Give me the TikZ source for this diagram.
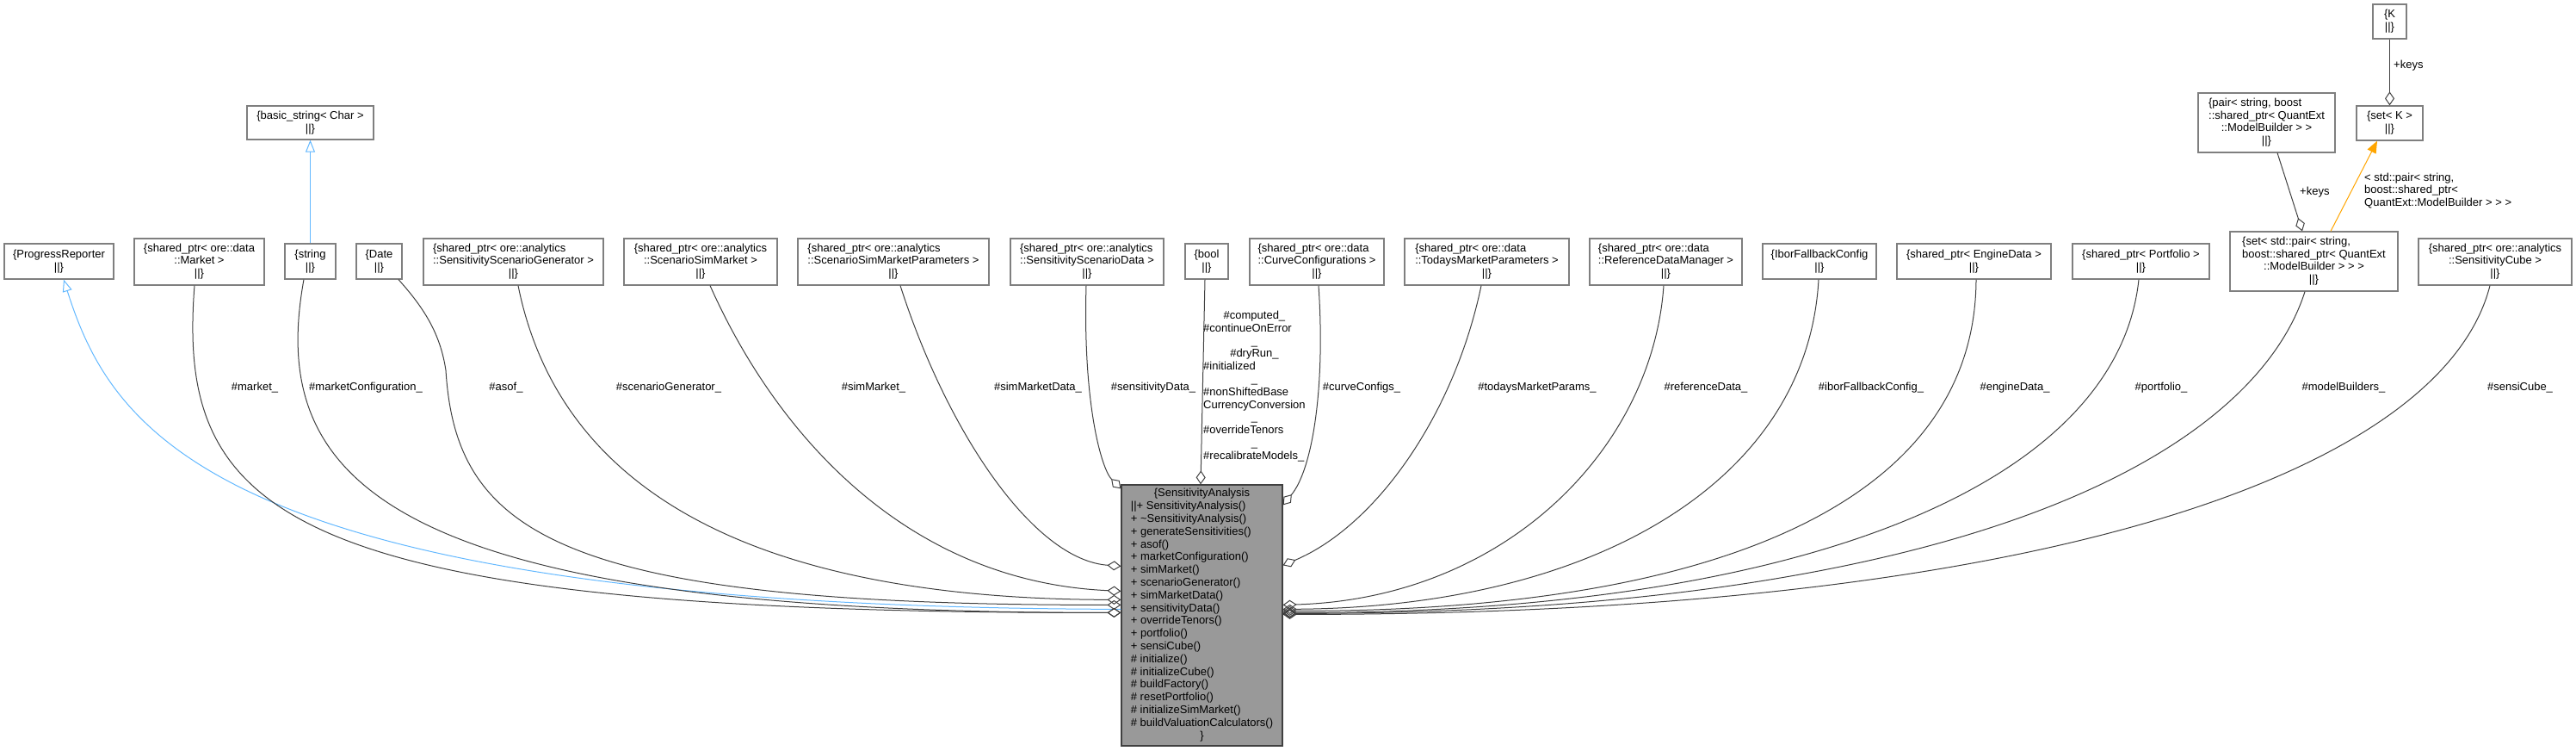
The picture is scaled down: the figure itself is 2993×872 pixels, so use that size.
\documentclass[tikz,border=0pt]{standalone}
\usepackage{fontspec}
\setmainfont{Liberation Sans}
\usetikzlibrary{arrows.meta}
\definecolor{boxline}{HTML}{7F7F7F}
\definecolor{mainline}{HTML}{404040}
\definecolor{mainfill}{HTML}{999999}
\definecolor{edgegray}{HTML}{404040}
\definecolor{inhblue}{HTML}{63B8FF}
\definecolor{tmplorange}{HTML}{FFA500}
\newcommand{\dotfont}{\fontsize{13}{14.8}\selectfont}
\newcommand{\ctr}[1]{\multicolumn{1}{@{}c@{}}{#1}}
\newcommand{\recbox}[2]{\begin{tabular}{@{}c@{}}\multicolumn{1}{@{}l@{}}{#1}\\#2\\||\}\end{tabular}}
\tikzset{
  cls/.style={draw=boxline, line width=1.2pt, fill=white, inner sep=0pt, align=center, font=\dotfont},
  lbl/.style={inner sep=0pt, font=\dotfont},
  agg/.style={draw=edgegray, line width=1pt, -{Diamond[open, length=16pt, width=11pt]}},
  inh/.style={draw=inhblue, line width=1pt, -{Triangle[open, length=14pt, width=11pt]}},
  tmpl/.style={draw=tmplorange, line width=1pt, -{Triangle[length=14pt, width=11pt, fill=tmplorange]}},
}
\begin{document}
\begin{tikzpicture}[x=1pt, y=-1pt]
  \useasboundingbox (0,0) rectangle (2993,872);
  % main class
  \node[cls, draw=mainline, fill=mainfill, minimum width=187pt, minimum height=303pt] (sa) at (1396.5,714.5)
    {\begin{tabular}{@{}l@{}}\ctr{\{SensitivityAnalysis}\\||+ SensitivityAnalysis()\\+ \textasciitilde SensitivityAnalysis()\\
     + generateSensitivities()\\+ asof()\\+ marketConfiguration()\\+ simMarket()\\+ scenarioGenerator()\\
     + simMarketData()\\+ sensitivityData()\\+ overrideTenors()\\+ portfolio()\\+ sensiCube()\\
     \# initialize()\\\# initializeCube()\\\# buildFactory()\\\# resetPortfolio()\\\# initializeSimMarket()\\
     \# buildValuationCalculators()\\\ctr{\}}\end{tabular}};
  % members
  \node[cls, minimum width=127pt, minimum height=41pt] (progress) at (68.5,303.5) {\{ProgressReporter\\||\}};
  \node[cls, minimum width=151pt, minimum height=54pt] (market) at (231.5,304) {\recbox{\{shared\_ptr< ore::data}{::Market >}};
  \node[cls, minimum width=59pt, minimum height=41pt] (string) at (360.5,303.5) {\{string\\||\}};
  \node[cls, minimum width=147pt, minimum height=39pt] (base) at (360.5,142.5) {\{basic\_string< Char >\\||\}};
  \node[cls, minimum width=53pt, minimum height=41pt] (date) at (440.5,303.5) {\{Date\\||\}};
  \node[cls, minimum width=209pt, minimum height=54pt] (ssgen) at (596.5,304) {\recbox{\{shared\_ptr< ore::analytics}{::SensitivityScenarioGenerator >}};
  \node[cls, minimum width=178pt, minimum height=54pt] (ssm) at (814,304) {\recbox{\{shared\_ptr< ore::analytics}{::ScenarioSimMarket >}};
  \node[cls, minimum width=222pt, minimum height=54pt] (ssmp) at (1038,304) {\recbox{\{shared\_ptr< ore::analytics}{::ScenarioSimMarketParameters >}};
  \node[cls, minimum width=178pt, minimum height=54pt] (ssdata) at (1263,304) {\recbox{\{shared\_ptr< ore::analytics}{::SensitivityScenarioData >}};
  \node[cls, minimum width=50pt, minimum height=41pt] (bool) at (1402,303.5) {\{bool\\||\}};
  \node[cls, minimum width=156pt, minimum height=54pt] (curvecfg) at (1530,304) {\recbox{\{shared\_ptr< ore::data}{::CurveConfigurations >}};
  \node[cls, minimum width=191pt, minimum height=54pt] (tmp) at (1727.5,304) {\recbox{\{shared\_ptr< ore::data}{::TodaysMarketParameters >}};
  \node[cls, minimum width=177pt, minimum height=54pt] (refdata) at (1935.5,304) {\recbox{\{shared\_ptr< ore::data}{::ReferenceDataManager >}};
  \node[cls, minimum width=132pt, minimum height=41pt] (ibor) at (2114,303.5) {\{IborFallbackConfig\\||\}};
  \node[cls, minimum width=179pt, minimum height=41pt] (engine) at (2293.5,303.5) {\{shared\_ptr< EngineData >\\||\}};
  \node[cls, minimum width=159pt, minimum height=41pt] (portfolio) at (2487.5,303.5) {\{shared\_ptr< Portfolio >\\||\}};
  \node[cls, minimum width=195pt, minimum height=69pt] (modelset) at (2688.5,303.5) {\recbox{\{set< std::pair< string,}{ boost::shared\_ptr< QuantExt\\::ModelBuilder > > >}};
  \node[cls, minimum width=178pt, minimum height=54pt] (cube) at (2899,304) {\recbox{\{shared\_ptr< ore::analytics}{::SensitivityCube >}};
  \node[cls, minimum width=159pt, minimum height=69pt] (pair) at (2633.5,142.5) {\recbox{\{pair< string, boost}{::shared\_ptr< QuantExt\\::ModelBuilder > >}};
  \node[cls, minimum width=77pt, minimum height=40pt] (setk) at (2776.5,143) {\{set< K >\\||\}};
  \node[cls, minimum width=39pt, minimum height=40pt] (kbox) at (2776.5,25) {\{K\\||\}};
  % inheritance
  \draw[inh] (string.north) -- (base.south);
  \draw[inh] ([yshift=-145pt]sa.north west) .. controls (250,705) and (130,500) .. ([xshift=5.5pt]progress.south);
  % members on the left
  \draw[agg] ([xshift=-5.5pt]market.south) .. controls (205,600) and (330,712) .. ([yshift=-149pt]sa.north west);
  \draw[agg] ([xshift=-7.5pt]string.south) .. controls (310,560) and (450,712) .. ([yshift=-149pt]sa.north west);
  \draw[agg] ([xshift=22.5pt]date.south) .. controls (495,360) and (512,390) .. (518,430)
    .. controls (530,620) and (650,703) .. ([yshift=-140pt]sa.north west);
  \draw[agg] ([xshift=5.5pt]ssgen.south) .. controls (640,520) and (800,695) .. ([yshift=-134pt]sa.north west);
  \draw[agg] ([xshift=11pt]ssm.south) .. controls (900,500) and (1050,675) .. ([yshift=-124pt]sa.north west);
  \draw[agg] ([xshift=8pt]ssmp.south) .. controls (1100,500) and (1200,650) .. ([yshift=-95pt]sa.north west);
  \draw[agg] ([xshift=-1pt]ssdata.south) .. controls (1258,470) and (1280,545) .. ([yshift=-5pt]sa.north west);
  \draw[agg] ([xshift=-2pt]bool.south) -- ([xshift=-1.5pt]sa.north);
  % members on the right
  \draw[agg] ([xshift=2pt]curvecfg.south) .. controls (1540,450) and (1525,545) .. ([yshift=-24pt]sa.north east);
  \draw[agg] ([xshift=-6.5pt]tmp.south) .. controls (1690,480) and (1600,610) .. ([yshift=-94pt]sa.north east);
  \draw[agg] ([xshift=-2.5pt]refdata.south) .. controls (1920,520) and (1750,695) .. ([yshift=-140pt]sa.north east);
  \draw[agg] ([xshift=-1pt]ibor.south) .. controls (2100,560) and (1850,705) .. ([yshift=-145pt]sa.north east);
  \draw[agg] ([xshift=2.5pt]engine.south) .. controls (2295,580) and (2000,710) .. ([yshift=-147pt]sa.north east);
  \draw[agg] ([xshift=-2.5pt]portfolio.south) .. controls (2460,560) and (2100,712) .. ([yshift=-149pt]sa.north east);
  \draw[agg] ([xshift=-10.5pt]modelset.south) .. controls (2620,520) and (2300,712) .. ([yshift=-150pt]sa.north east);
  \draw[agg] ([xshift=-6pt]cube.south) .. controls (2840,540) and (2400,714) .. ([yshift=-151pt]sa.north east);
  % keys and template
  \draw[agg] (kbox.south) -- (setk.north);
  \draw[agg] ([xshift=12.5pt]pair.south) -- ([xshift=-13.5pt]modelset.north);
  \draw[tmpl] ([xshift=19.5pt]modelset.north) -- ([xshift=-14.5pt]setk.south);
  % labels
  \foreach \n/\x/\t in {market/296/{\#market\_}, mcfg/425/{\#marketConfiguration\_}, asof/588/{\#asof\_},
      ssgen/777/{\#scenarioGenerator\_}, ssm/1015/{\#simMarket\_}, ssmp/1206/{\#simMarketData\_},
      ssdata/1340/{\#sensitivityData\_}, curvecfg/1582/{\#curveConfigs\_}, tmp/1786/{\#todaysMarketParams\_},
      refdata/1982/{\#referenceData\_}, ibor/2174/{\#iborFallbackConfig\_}, engine/2341/{\#engineData\_},
      portfolio/2511/{\#portfolio\_}, modelset/2723/{\#modelBuilders\_}, cube/2928/{\#sensiCube\_}}
    \node[lbl] (l\n) at (\x,450) {\t};
  \node[lbl, anchor=west] (lbool) at (1398,449)
    {\begin{tabular}{@{}l@{}}\ctr{\#computed\_}\\\#continueOnError\\\ctr{\_}\\\ctr{\#dryRun\_}\\\#initialized\\\ctr{\_}\\
     \#nonShiftedBase\\CurrencyConversion\\\ctr{\_}\\\#overrideTenors\\\ctr{\_}\\\#recalibrateModels\_\end{tabular}};
  \node[lbl, anchor=west] (lkeys) at (2781,76) {+keys};
  \node[lbl, anchor=west] (lpairkeys) at (2672,223) {+keys};
  \node[lbl, anchor=west] (ltmpl) at (2747,222)
    {\begin{tabular}{@{}l@{}}< std::pair< string,\\boost::shared\_ptr<\\QuantExt::ModelBuilder > > >\end{tabular}};
\end{tikzpicture}
\end{document}
